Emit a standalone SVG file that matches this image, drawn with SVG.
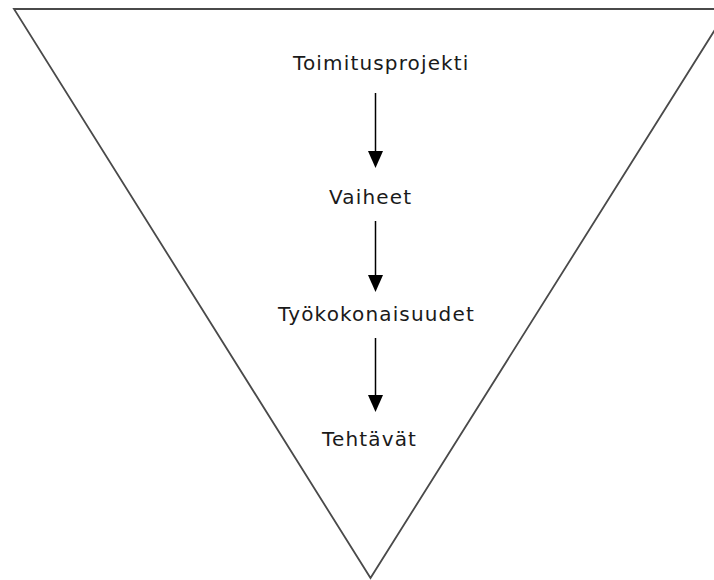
<svg xmlns="http://www.w3.org/2000/svg" width="714" height="580" viewBox="0 0 714 580">
  <style>
    .funnel { fill: #fff; stroke: #4a4a4a; stroke-width: 1.8; }
    .label { font-family: "DejaVu Sans", Verdana, sans-serif; font-size: 20px; letter-spacing: 1.15px; fill: #1a1a1a; }
    .link { stroke: #000; stroke-width: 1.5; fill: none; }
    .head { fill: #000; }
  </style>
  <rect width="714" height="580" fill="#fff"/>

  <!-- inverted triangle (funnel) -->
  <polygon class="funnel" points="14,9 728,9 370.5,578"/>

  <g id="node-toimitusprojekti">
    <text class="label" x="293" y="69.5">Toimitusprojekti</text>
  </g>
  <g id="node-vaiheet">
    <text class="label" x="329" y="204">Vaiheet</text>
  </g>
  <g id="node-tyokokonaisuudet">
    <text class="label" x="278" y="321">Työkokonaisuudet</text>
  </g>
  <g id="node-tehtavat">
    <text class="label" x="322" y="446">Tehtävät</text>
  </g>

  <g id="connectors">
    <line class="link" x1="375.5" y1="93" x2="375.5" y2="152"/>
    <path class="head" d="M368,151 L383,151 L375.5,168 Z"/>
    <line class="link" x1="375.5" y1="221" x2="375.5" y2="276"/>
    <path class="head" d="M368,275 L383,275 L375.5,292 Z"/>
    <line class="link" x1="375.5" y1="338" x2="375.5" y2="396"/>
    <path class="head" d="M368,395 L383,395 L375.5,412 Z"/>
  </g>
</svg>
